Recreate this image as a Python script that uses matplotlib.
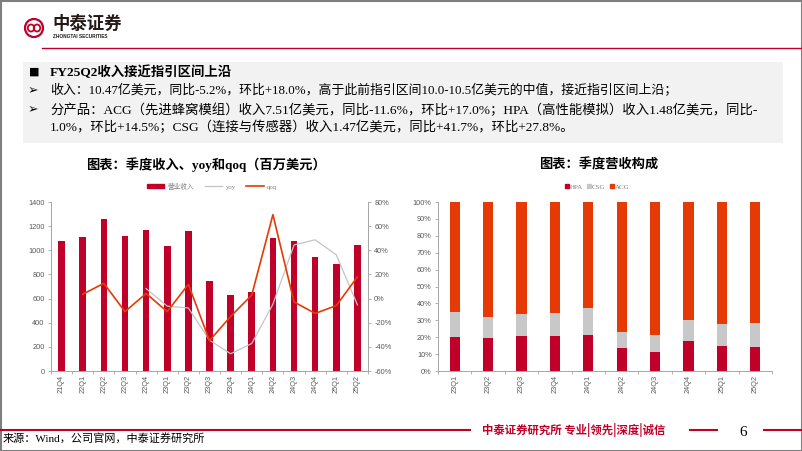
import numpy as np
import matplotlib.pyplot as plt
from matplotlib.patches import Rectangle, Ellipse
from matplotlib.lines import Line2D
from matplotlib.ticker import FuncFormatter

plt.rcParams['font.family'] = ['Liberation Serif', 'Noto Sans CJK SC', 'DejaVu Sans']

W, H = 802, 451

# quarterly revenue (USD m), yoy and qoq (%)
quarters = ['21Q4', '22Q1', '22Q2', '22Q3', '22Q4', '23Q1', '23Q2', '23Q3',
            '23Q4', '24Q1', '24Q2', '24Q3', '24Q4', '25Q1', '25Q2']
revenue = [1074, 1111, 1256, 1117, 1166, 1036, 1158, 743, 633, 651, 1104, 1073, 941, 887, 1047]
yoy = [np.nan, np.nan, np.nan, np.nan, 8.3, -6.3, -7.8, -34.5, -45.7, -37.2,
       -4.7, 44.4, 48.7, 36.2, -5.2]
qoq = [np.nan, 3.6, 12.6, -10.8, 4.2, -10.8, 11.8, -34.8, -14.8, 2.9,
       69.5, -2.8, -12.3, -5.8, 18.0]

# revenue mix (%)
mix_quarters = ['23Q1', '23Q2', '23Q3', '23Q4', '24Q1', '24Q2', '24Q3', '24Q4', '25Q1', '25Q2']
hpa = [20.4, 19.8, 20.9, 20.9, 21.5, 13.6, 11.3, 17.6, 14.8, 14.2]
csg = [14.6, 12.4, 13.1, 13.3, 15.5, 9.3, 9.8, 12.8, 12.9, 14.1]
acg = [65.0, 67.8, 66.0, 65.8, 63.0, 77.1, 78.9, 69.6, 72.3, 71.7]

RED = '#C00029'
ORANGE = '#E63A06'
GRAY = '#C4C4C4'
TXT = '#595959'
SPINE = '#A6A6A6'


def px(x, y):
    return x / W, 1 - y / H


fig = plt.figure(figsize=(W / 100, H / 100), dpi=100)

# page frame, header, logo
fig.add_artist(Rectangle((0, 0), 1, 1, transform=fig.transFigure, fill=False,
                         ec='#7F7F7F', lw=2.2))
fig.add_artist(Line2D([42 / W, 1], [1 - 48 / H] * 2, color=RED, lw=1.0))
fig.add_artist(Ellipse(px(34, 28), 18 / W, 18 / H, transform=fig.transFigure,
                       fill=False, ec=RED, lw=1.6))
fig.add_artist(Ellipse(px(31, 28), 6.5 / W, 7 / H, transform=fig.transFigure,
                       fill=False, ec=RED, lw=1.3))
fig.add_artist(Ellipse(px(37, 28), 6.5 / W, 7 / H, transform=fig.transFigure,
                       fill=False, ec=RED, lw=1.3))
fig.text(*px(52, 24), '中泰证券', fontsize=12.5, fontweight='bold', color='#231815',
         family='Noto Sans CJK SC', va='center', ha='left')
fig.text(*px(53, 37), 'ZHONGTAI SECURITIES', fontsize=3.4, fontweight='bold',
         color='#231815', family='Liberation Sans', va='center', ha='left')

# summary box
fig.add_artist(Rectangle(px(23, 143), (783 - 23) / W, (143 - 62) / H,
                         transform=fig.transFigure, fc='#F2F2F2', ec='none'))
fig.text(*px(29, 72), '■', fontsize=8, family='DejaVu Sans', va='center')
fig.text(*px(50, 72), 'FY25Q2收入接近指引区间上沿', fontsize=9.6, fontweight='bold', va='center')
fig.text(*px(28, 91), '➢', fontsize=9, family='DejaVu Sans', va='center')
fig.text(*px(50, 91), '收入：10.47亿美元，同比-5.2%，环比+18.0%，高于此前指引区间10.0-10.5亿美元的中值，接近指引区间上沿；',
         fontsize=9.3, va='center')
fig.text(*px(28, 110), '➢', fontsize=9, family='DejaVu Sans', va='center')
fig.text(*px(50, 110), '分产品：ACG（先进蜂窝模组）收入7.51亿美元，同比-11.6%，环比+17.0%；HPA（高性能模拟）收入1.48亿美元，同比-',
         fontsize=9.6, va='center')
fig.text(*px(50, 127), '1.0%，环比+14.5%；CSG（连接与传感器）收入1.47亿美元，同比+41.7%，环比+27.8%。',
         fontsize=9.6, va='center')

# chart titles
fig.text(*px(206, 165), '图表：季度收入、yoy和qoq（百万美元）', fontsize=9.5,
         fontweight='bold', ha='center', va='center')
fig.text(*px(599, 165), '图表：季度营收构成', fontsize=9.5,
         fontweight='bold', ha='center', va='center')

# left chart: revenue bars + yoy/qoq lines
ax = fig.add_axes([51 / W, 1 - 371 / H, 317 / W, 169 / H])
x = np.arange(len(quarters))
ax.bar(x, revenue, width=0.31, color=RED, zorder=2)
ax.set_xlim(-0.5, len(quarters) - 0.5)
ax.set_ylim(0, 1400)
ax.set_yticks(range(0, 1401, 200))
ax.set_xticks(x)
ax.set_xticklabels(quarters, rotation=90)
ax.set_xticks(np.arange(-0.5, len(quarters)), minor=True)

ax2 = ax.twinx()
ax2.plot(x, yoy, color=GRAY, lw=0.9, zorder=3)
ax2.plot(x, qoq, color=ORANGE, lw=1.2, zorder=4)
ax2.set_ylim(-60, 80)
ax2.set_yticks(range(-60, 81, 20))
ax2.yaxis.set_major_formatter(FuncFormatter(lambda v, p: f'{v:.0f}%'))

for a in (ax, ax2):
    a.spines['top'].set_visible(False)
    for s in ('left', 'right', 'bottom'):
        a.spines[s].set_color(SPINE)
        a.spines[s].set_linewidth(0.7)
    a.tick_params(axis='both', which='major', labelsize=5.3, labelcolor=TXT,
                  colors=SPINE, length=2.5, width=0.6, pad=2,
                  labelfontfamily='Liberation Sans')
ax.tick_params(axis='x', which='major', length=0, pad=3)
ax.tick_params(axis='x', which='minor', length=2, width=0.6, colors=SPINE)

handles = [Rectangle((0, 0), 1, 1, color=RED),
           Line2D([], [], color=GRAY, lw=0.9),
           Line2D([], [], color=ORANGE, lw=1.2)]
fig.legend(handles, ['营业收入', 'yoy', 'qoq'], loc='center',
           bbox_to_anchor=px(212, 186), ncol=3, fontsize=4.8, frameon=False,
           labelcolor='#808080', handlelength=2.6, handleheight=0.6,
           columnspacing=1.6, handletextpad=0.5)

# right chart: stacked revenue mix
bx = fig.add_axes([438 / W, 1 - 371 / H, 334 / W, 169 / H])
xm = np.arange(len(mix_quarters))
bx.bar(xm, hpa, width=0.31, color=RED, label='HPA')
bx.bar(xm, csg, width=0.31, bottom=hpa, color='#C8C8C8', label='CSG')
bx.bar(xm, acg, width=0.31, bottom=np.add(hpa, csg), color=ORANGE, label='ACG')
bx.set_xlim(-0.5, len(mix_quarters) - 0.5)
bx.set_ylim(0, 100)
bx.set_yticks(range(0, 101, 10))
bx.yaxis.set_major_formatter(FuncFormatter(lambda v, p: f'{v:.0f}%'))
bx.set_xticks(xm)
bx.set_xticklabels(mix_quarters, rotation=90)
bx.set_xticks(np.arange(-0.5, len(mix_quarters)), minor=True)
for s in ('top', 'right'):
    bx.spines[s].set_visible(False)
for s in ('left', 'bottom'):
    bx.spines[s].set_color(SPINE)
    bx.spines[s].set_linewidth(0.7)
bx.tick_params(axis='both', which='major', labelsize=5.3, labelcolor=TXT,
               colors=SPINE, length=2.5, width=0.6, pad=2,
               labelfontfamily='Liberation Sans')
bx.tick_params(axis='x', which='major', length=0, pad=3)
bx.tick_params(axis='x', which='minor', length=2, width=0.6, colors=SPINE)

mix_handles = [Line2D([], [], ls='none', marker='s', ms=2.8, color=c)
               for c in (RED, '#C8C8C8', ORANGE)]
fig.legend(mix_handles, ['HPA', 'CSG', 'ACG'], loc='center',
           bbox_to_anchor=px(597, 187), ncol=3, fontsize=5, frameon=False,
           labelcolor='#808080', handlelength=0.6, handletextpad=0.1,
           columnspacing=0.6)

# footer
fig.add_artist(Line2D([0, 470 / W], [1 - 430 / H] * 2, color=RED, lw=1.5))
fig.text(*px(482, 430), '中泰证券研究所 专业|领先|深度|诚信', fontsize=8.2,
         fontweight='bold', color=RED, family='Noto Sans CJK SC', va='center')
fig.add_artist(Line2D([690 / W, 717 / W], [1 - 430 / H] * 2, color=RED, lw=1.5))
fig.text(*px(743, 432), '6', fontsize=11, color='black', va='center', ha='center')
fig.add_artist(Line2D([764 / W, 1], [1 - 430 / H] * 2, color=RED, lw=1.5))
fig.text(*px(3, 438), '来源：Wind，公司官网，中泰证券研究所', fontsize=8, va='center')

fig.savefig('out.png', dpi=100)
